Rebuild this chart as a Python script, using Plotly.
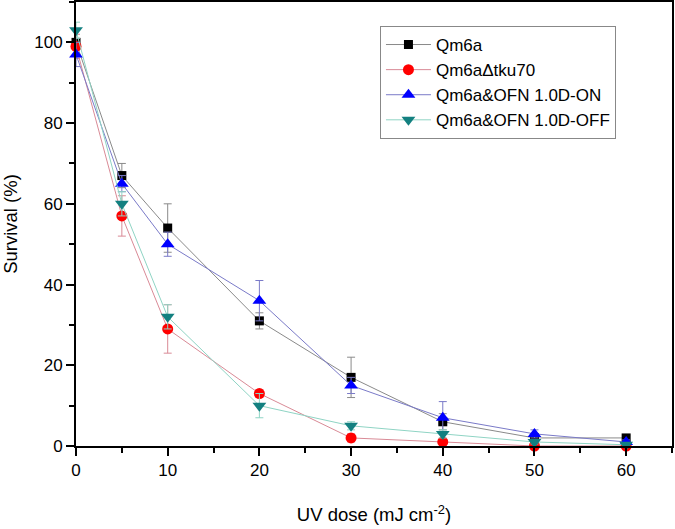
import plotly.graph_objects as go

dose = [0, 5, 10, 20, 30, 40, 50, 60]

qm6a = [100, 67, 54, 31, 17, 6, 2, 2]
qm6a_err = [3, 3, 6, 2, 5, 2, 1, 0.5]

tku70 = [99, 57, 29, 13, 2, 1, 0, 0]
tku70_err = [3, 5, 6, 1, 1, 0.5, 0.3, 0.3]

on = [97, 65, 50, 36, 15, 7, 3, 1]
on_err = [3, 2, 3, 5, 2, 4, 1, 0.5]

off = [103, 60, 32, 10, 5, 3, 1, 0.3]
off_err = [2, 3, 3, 3, 1, 1, 0.5, 0.3]

names = ["Qm6a", "Qm6a\u0394tku70", "Qm6a&OFN 1.0D-ON", "Qm6a&OFN 1.0D-OFF"]
series = [qm6a, tku70, on, off]
errs = [qm6a_err, tku70_err, on_err, off_err]
line_colors = ["#8a8a8a", "#d98a96", "#7a7ac8", "#8fd4c4"]
marker_colors = ["#000000", "#ff0000", "#0000ff", "#138080"]
symbols = ["square", "circle", "triangle-up", "triangle-down"]
sizes = [9, 11, 12, 12]

fig = go.Figure()
for name, y, e, lc, mc, sym, sz in zip(names, series, errs, line_colors, marker_colors, symbols, sizes):
    fig.add_trace(go.Scatter(
        x=dose, y=y, name=name, mode="lines+markers",
        line=dict(color=lc, width=1),
        marker=dict(symbol=sym, color=mc, size=sz, line=dict(width=0)),
        error_y=dict(type="data", array=e, visible=True, color=lc, thickness=1, width=4),
        cliponaxis=False,
    ))

font = "Liberation Sans"
fig.update_layout(
    width=675, height=529,
    margin=dict(l=76, r=3, t=2, b=83),
    paper_bgcolor="white", plot_bgcolor="white",
    font=dict(family=font, size=17, color="black"),
    showlegend=True,
    legend=dict(x=0.51, y=0.946, xanchor="left", yanchor="top",
                bordercolor="#888888", borderwidth=1, bgcolor="white",
                font=dict(size=17, family=font), itemwidth=45,
                tracegroupgap=0),
    xaxis=dict(range=[0, 65], tickvals=[0, 10, 20, 30, 40, 50, 60],
               showline=True, linecolor="black", linewidth=2, mirror=True,
               ticks="outside", ticklen=8, tickwidth=2, tickcolor="black",
               minor=dict(ticks="outside", ticklen=5, tickwidth=2, tickcolor="black", dtick=5),
               showgrid=False, zeroline=False, automargin=False,
               title=dict(text="UV dose (mJ cm<sup>-2</sup>)", font=dict(size=18.5), standoff=29),
               tickfont=dict(size=17)),
    yaxis=dict(range=[0, 110], tickvals=[0, 20, 40, 60, 80, 100],
               showline=True, linecolor="black", linewidth=2, mirror=True,
               ticks="outside", ticklen=8, tickwidth=2, tickcolor="black",
               minor=dict(ticks="outside", ticklen=5, tickwidth=2, tickcolor="black", dtick=10),
               showgrid=False, zeroline=False, automargin=False,
               title=dict(text="Survival (%)", font=dict(size=18.5), standoff=16),
               tickfont=dict(size=17)),
)

fig.write_html("out.html", config={"displayModeBar": False},
               post_script="document.body.style.margin='0';")
